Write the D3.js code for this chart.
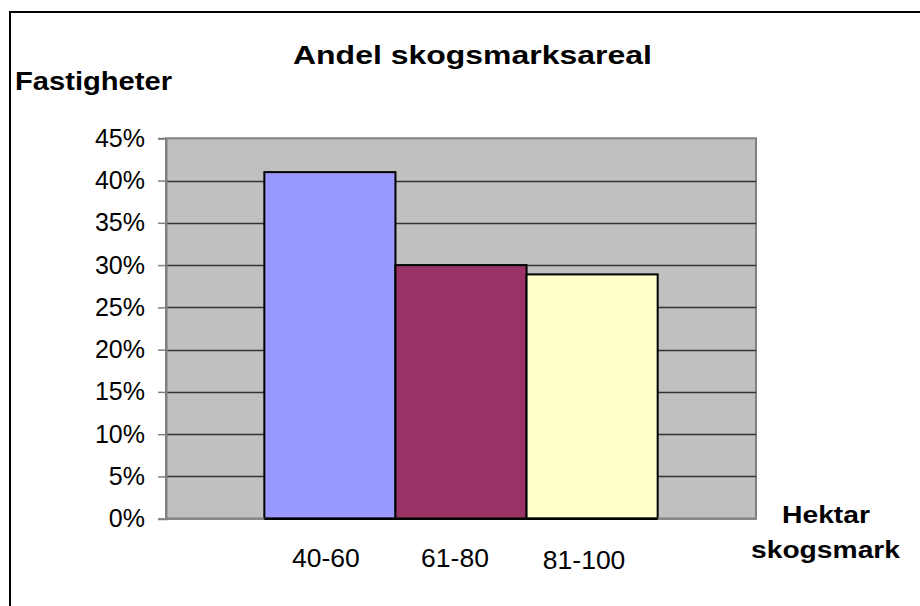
<!DOCTYPE html>
<html>
<head>
<meta charset="utf-8">
<script src="https://cdn.jsdelivr.net/npm/d3@7"></script>
<style>
	body { margin: 0; background: #fff; }
	svg { display: block; }
</style>
</head>
<body>
<svg id="chart"></svg>
<script>
// data
let categories = ['40-60', '61-80', '81-100']
let values = [0.41, 0.30, 0.289]
let barColors = ['#9999ff', '#993366', '#ffffcc']
let yTickValues = [0, 0.05, 0.10, 0.15, 0.20, 0.25, 0.30, 0.35, 0.40, 0.45]

let width = 920
let height = 606
let plot = ({ left: 166, right: 756, top: 138.3, bottom: 518.7 })
let plotW = plot.right - plot.left
let font = "'Liberation Sans', Arial, sans-serif"

let svg = d3.select('#chart')
	.attr('width', width)
	.attr('height', height)
	.style('font-family', font)

// outer frame (runs off the right and bottom edge)
svg.append('rect')
	.attr('x', 10)
	.attr('y', 12)
	.attr('width', width + 20)
	.attr('height', height + 20)
	.attr('fill', '#fff')
	.attr('stroke', '#000')
	.attr('stroke-width', 2)

let y = d3.scaleLinear()
	.domain([0, 0.45])
	.range([plot.bottom, plot.top])

// one category, three series -> bars sit side by side, 50% gap width
let x = d3.scaleBand()
	.domain(categories)
	.range([plot.left + plotW / 6, plot.right - plotW / 6])
	.padding(0)

let color = d3.scaleOrdinal()
	.domain(categories)
	.range(barColors)

// plot background
svg.append('rect')
	.attr('x', plot.left)
	.attr('y', plot.top)
	.attr('width', plotW)
	.attr('height', plot.bottom - plot.top)
	.attr('fill', '#c0c0c0')
	.attr('stroke', '#808080')
	.attr('stroke-width', 2)

// gridlines
svg.append('g')
	.selectAll('line')
	.data(yTickValues.filter(d => d > 0 && d < 0.45))
	.join('line')
	.attr('x1', plot.left)
	.attr('x2', plot.right)
	.attr('y1', d => Math.round(y(d)) + 0.5)
	.attr('y2', d => Math.round(y(d)) + 0.5)
	.attr('stroke', '#333')
	.attr('stroke-width', 1.5)

// y axis
let yAxis = d3.axisLeft(y)
	.tickValues(yTickValues)
	.tickFormat(d3.format('.0%'))
	.tickSize(8)
	.tickPadding(13)

let ya = svg.append('g')
	.attr('transform', `translate(${plot.left},0)`)
	.call(yAxis)
ya.select('.domain').attr('stroke', '#808080').attr('stroke-width', 2)
ya.selectAll('.tick line').attr('stroke', '#808080').attr('stroke-width', 1.5)
ya.selectAll('.tick text')
	.attr('fill', '#000')
	.style('font-size', '25px')
	.style('font-family', font)

// bars
svg.append('g')
	.selectAll('rect')
	.data(categories.map((c, i) => ({ name: c, value: values[i] })))
	.join('rect')
	.attr('x', d => x(d.name))
	.attr('y', d => y(d.value))
	.attr('width', x.bandwidth())
	.attr('height', d => y(0) - y(d.value))
	.attr('fill', d => color(d.name))
	.attr('stroke', '#000')
	.attr('stroke-width', 2)

// bottom axis line
svg.append('line')
	.attr('x1', plot.left)
	.attr('x2', plot.right)
	.attr('y1', y(0))
	.attr('y2', y(0))
	.attr('stroke', '#808080')
	.attr('stroke-width', 2)
svg.append('line')
	.attr('x1', x(categories[0]))
	.attr('x2', x(categories[2]) + x.bandwidth())
	.attr('y1', y(0))
	.attr('y2', y(0))
	.attr('stroke', '#000')
	.attr('stroke-width', 2.5)

// category labels (separate text boxes in the original, slightly off)
let labelShift = [[-4, 0], [-6, 0], [-8, 2.6]]
svg.append('g')
	.selectAll('text')
	.data(categories)
	.join('text')
	.attr('x', (d, i) => x(d) + x.bandwidth() / 2 + labelShift[i][0])
	.attr('y', (d, i) => 566.7 + labelShift[i][1])
	.attr('text-anchor', 'middle')
	.style('font-size', '26.5px')
	.text(d => d)

// titles, the bold text is drawn wide in the original
let bold = (txt, cx, cy, size, len) => svg.append('text')
	.attr('x', cx)
	.attr('y', cy)
	.attr('textLength', len)
	.attr('lengthAdjust', 'spacingAndGlyphs')
	.style('font-size', size + 'px')
	.style('font-weight', 'bold')
	.text(txt)

bold('Andel skogsmarksareal', 293, 64, 26, 359)
bold('Fastigheter', 15, 90, 25, 157)
bold('Hektar', 782, 523.3, 23.5, 88)
bold('skogsmark', 751, 558, 23.5, 149)
</script>
</body>
</html>
